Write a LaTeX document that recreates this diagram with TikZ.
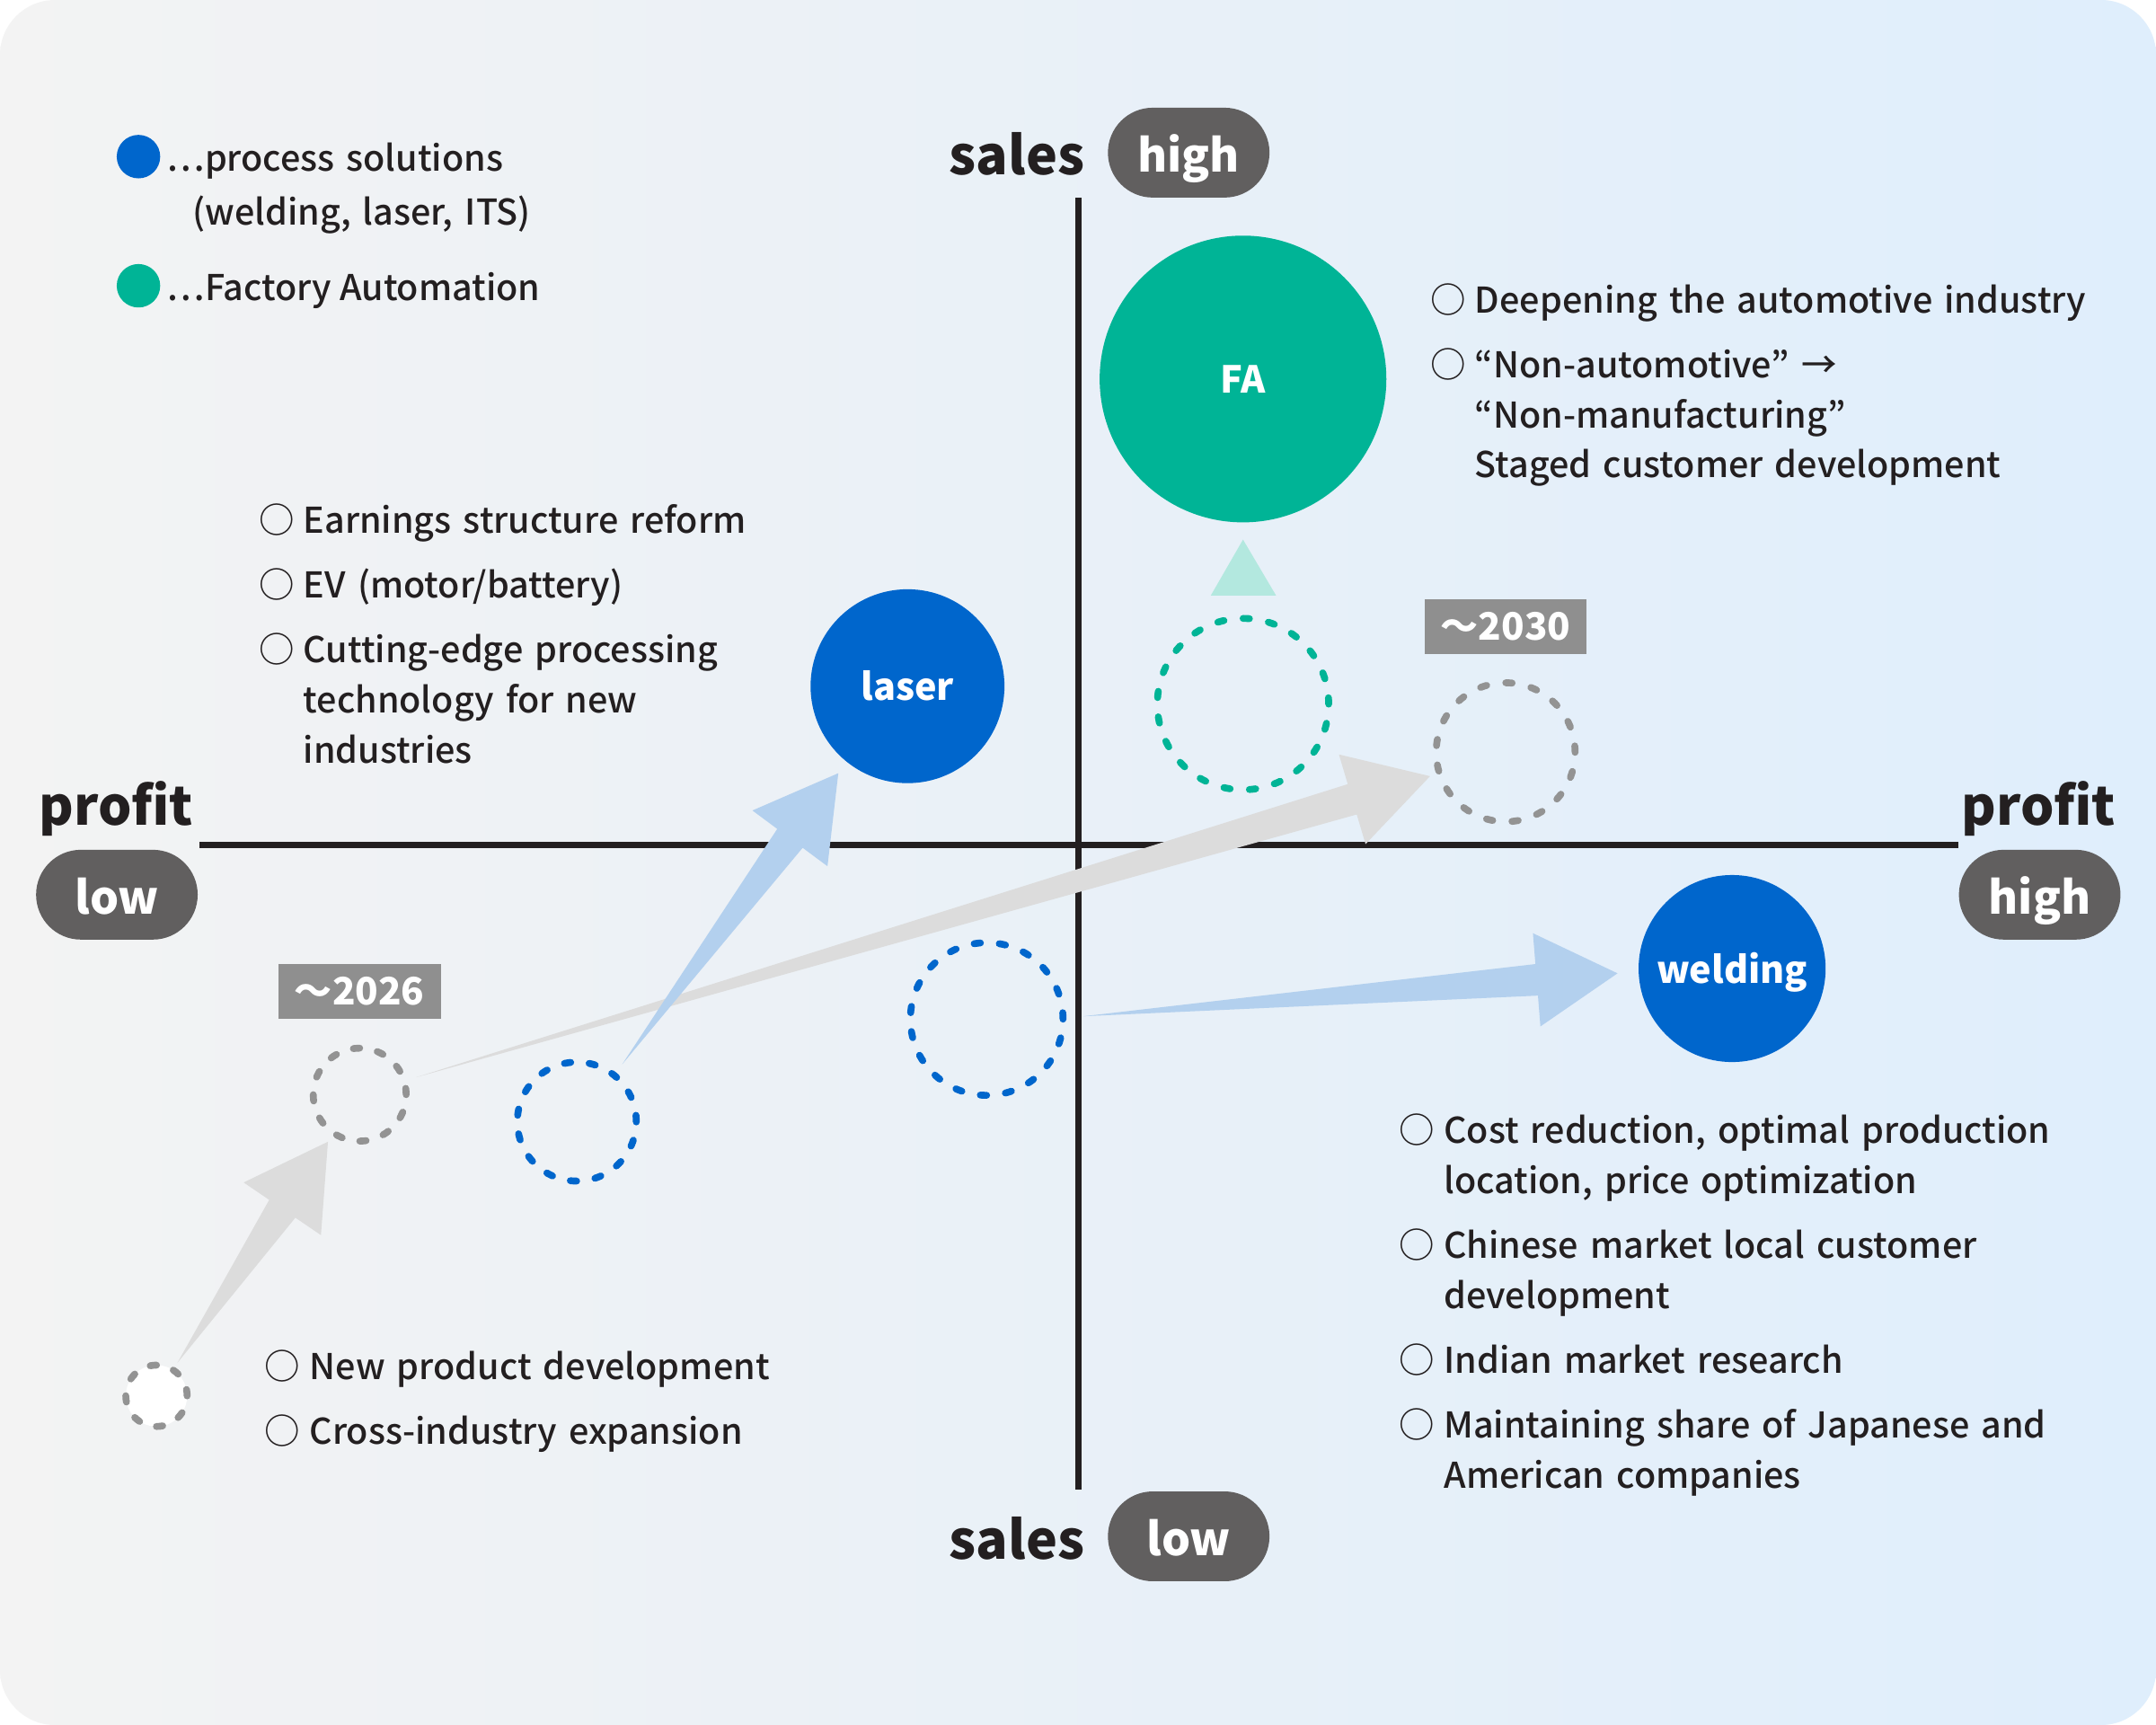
\documentclass[tikz,border=0pt]{standalone}
\usepackage{fontspec}
\setmainfont{Noto Sans CJK JP}
\newfontfamily\medfont{Noto Sans CJK JP Medium}
\usetikzlibrary{calc}
\definecolor{txt}{RGB}{35,31,32}
\definecolor{pblue}{RGB}{0,102,204}
\definecolor{pteal}{RGB}{0,180,150}
\definecolor{lblue}{RGB}{179,208,238}
\definecolor{lgrey}{RGB}{220,220,220}
\definecolor{ltri}{RGB}{179,232,223}
\definecolor{pillc}{RGB}{97,95,95}
\definecolor{ybox}{RGB}{143,143,143}
\definecolor{dgrey}{RGB}{147,147,147}
\definecolor{bgl}{RGB}{243,243,243}
\definecolor{bgr}{RGB}{223,238,252}
\definecolor{axisc}{RGB}{35,31,32}
\newcommand{\bl}{\makebox[32.5pt][l]{○}}
\newcommand{\ind}{\hspace*{32.5pt}}
\newcommand{\fatarrow}[4]{%
  \coordinate (#4b) at ($(#3)!59pt!(#2)$);
  \fill[#1] (#2) -- ($(#4b)!11.5pt!90:(#3)$) -- ($(#4b)!34pt!90:(#3)$) -- (#3)
    -- ($(#4b)!34pt!-90:(#3)$) -- ($(#4b)!11.5pt!-90:(#3)$) -- cycle;
}
\begin{document}
\begin{tikzpicture}[x=1pt,y=-1pt,
  body/.style={font=\medfont\fontsize{25.8}{36.5}\selectfont, text=txt},
  blist/.style={body, anchor=base west, inner sep=0pt, align=left, text width=560pt},
  bigbold/.style={font=\fontsize{38.5}{46}\selectfont\bfseries, text=txt, inner sep=0pt},
  pillbox/.style={fill=pillc, rounded corners=32.6pt, minimum width=117.5pt, minimum height=65.3pt,
    inner sep=0pt, text=white, font=\fontsize{33}{40}\selectfont\bfseries, text height=31pt, text depth=2.6pt},
  disc/.style={circle, inner sep=0pt, text=white, font=\fontsize{27}{32}\selectfont\bfseries,
    text height=21pt, text depth=0pt},
  ring/.style={circle, draw, line width=5pt, line cap=round, inner sep=0pt, dash pattern=on 4.6pt off #1pt},
  yearbox/.style={fill=ybox, minimum width=118pt, minimum height=39.6pt, inner sep=0pt, text=white,
    font=\fontsize{27.5}{32}\selectfont\bfseries, text height=20pt, text depth=0pt},
  axisline/.style={draw=axisc, line width=4.8pt},
  legdot/.style={circle, minimum size=31.6pt, inner sep=0pt}
]
\useasboundingbox (0,0) rectangle (1568,1254.4);
\fill[white] (0,0) rectangle (1568,1254.4);
\shade[left color=bgl, right color=bgr, rounded corners=40pt] (0,0) rectangle (1568,1254.4);

% axes
\coordinate (hl) at (145,614.5);
\coordinate (hr) at (1424,614.5);
\coordinate (vt) at (784.2,144);
\coordinate (vb) at (784.2,1083);
\draw[axisline] (hl) -- (hr);
\draw[axisline] (vt) -- (vb);

% circles (nodes)
\node[disc, fill=pteal, minimum size=208.5pt] (fa) at (904,275.6) {FA};
\node[disc, fill=pblue, minimum size=141pt] (laser) at (660,499) {laser};
\node[disc, fill=pblue, minimum size=136pt] (welding) at (1259.7,704.3) {welding};
\node[ring=14.04, draw=pteal, minimum size=124.6pt] (tealring) at (904,512) {};
\node[ring=14.06, draw=dgrey, minimum size=101pt] (c30) at (1095,547) {};
\node[ring=13.75, draw=pblue, minimum size=111pt] (b717) at (717.6,741) {};
\node[ring=13.5, draw=pblue, minimum size=86.5pt] (b420) at (419.5,815.6) {};
\node[ring=13.1, draw=dgrey, minimum size=67.6pt] (c26) at (261.6,796) {};

% triangle
\fill[ltri] (904,392.4) -- (928,433) -- (880.6,433) -- cycle;

% arrow end points
\coordinate (a1t) at ($(c26.center)+(236:41.3pt)$);
\coordinate (a2s) at ($(c26.center)+(17.1:42.9pt)$);
\coordinate (a2t) at ($(c30.center)+(197.6:57.7pt)$);
\coordinate (a3s) at ($(b420.center)+(51.6:53.1pt)$);
\coordinate (a3t) at ($(laser.center)+(231.5:80.85pt)$);
\coordinate (a4s) at (788,739);
\coordinate (a4t) at ($(welding.center)+(182.4:83.4pt)$);

% start circle and arrows
\coordinate (start0) at (113.8,1015);
\coordinate (a1s) at ($(start0)+(57.6:28.4pt)$);
\fatarrow{lgrey}{a1s}{a1t}{a1}
\fatarrow{lgrey}{a2s}{a2t}{a2}
\fatarrow{lblue}{a4s}{a4t}{a4}
\fatarrow{lblue}{a3s}{a3t}{a3}
\node[ring=12.9, draw=dgrey, fill=white, minimum size=44.6pt] (start) at (start0) {};

% year labels
\node[yearbox] (y30) at (1095,455.8) {〜2030};
\node[yearbox] (y26) at (261.5,720.8) {〜2026};

% axis labels
\node[bigbold, anchor=base east] (salesT) at (789,127.4) {sales};
\node[pillbox] (highT) at (864.5,111) {high};
\node[bigbold, anchor=base east] (salesB) at (789,1133.6) {sales};
\node[pillbox] (lowB) at (864.5,1117.2) {low};
\node[bigbold, anchor=base west] (profitL) at (28.5,600) {profit};
\node[pillbox] (lowL) at (85,650.6) {low};
\node[bigbold, anchor=base west] (profitR) at (1426.5,600) {profit};
\node[pillbox] (highR) at (1483.4,650.6) {high};

% legend
\node[legdot, fill=pblue] (lgb) at (100.7,113.9) {};
\node[legdot, fill=pteal] (lgt) at (100.7,207.8) {};
\node[body, anchor=base west, inner sep=0pt, align=left, text width=400pt, font=\medfont\fontsize{25.8}{38.8}\selectfont] (lgbt) at (121,124.7)
  {…process solutions\\ \hspace*{19pt}(welding, laser, ITS)};
\node[body, anchor=base west, inner sep=0pt] (lgtt) at (121,218.8) {…Factory Automation};

% bullet lists
\node[blist] (list1) at (188,388)
  {\bl Earnings structure reform\\[10.5pt]
   \bl EV (motor/battery)\\[10.5pt]
   \bl Cutting-edge processing\\ \ind technology for new\\ \ind industries};
\node[blist] (list2) at (1040,227.5)
  {\bl Deepening the automotive industry\\[10.5pt]
   \bl “Non-automotive” →\\ \ind “Non-manufacturing”\\ \ind Staged customer development};
\node[blist] (list3) at (192.5,1003.5)
  {\bl New product development\\[10.5pt]
   \bl Cross-industry expansion};
\node[blist] (list4) at (1017.5,831.5)
  {\bl Cost reduction, optimal production\\ \ind location, price optimization\\[10.5pt]
   \bl Chinese market local customer\\ \ind development\\[10.5pt]
   \bl Indian market research\\[10.5pt]
   \bl Maintaining share of Japanese and\\ \ind American companies};
\end{tikzpicture}
\end{document}
